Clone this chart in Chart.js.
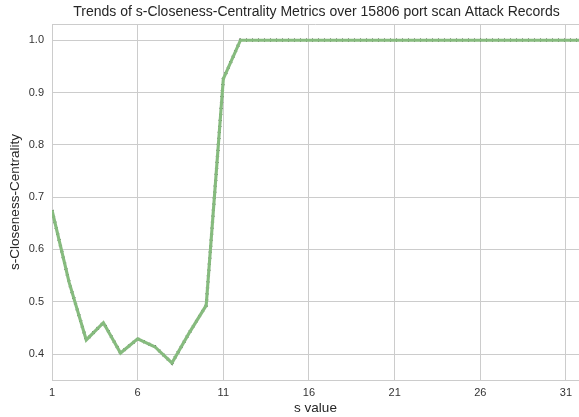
<!DOCTYPE html>
<html>
<head>
<meta charset="utf-8">
<script src="https://cdn.jsdelivr.net/npm/chart.js@4.4.0/dist/chart.umd.min.js"></script>
<style>
html,body{margin:0;padding:0;background:#fff;}
#wrap{width:579px;height:417px;position:relative;}
</style>
</head>
<body>
<div id="wrap"><canvas id="c" width="579" height="417"></canvas></div>
<script>
const sValues = [1,2,3,4,5,6,7,8,9,10,11,12,13,14,15,16,17,18,19,20,21,22,23,24,25,26,27,28,29,30,31,32];
const closeness = [0.675,0.537,0.427,0.46,0.402,0.429,0.414,0.383,0.44,0.493,0.926,1.0,1.0,1.0,1.0,1.0,1.0,1.0,1.0,1.0,1.0,1.0,1.0,1.0,1.0,1.0,1.0,1.0,1.0,1.0,1.0,1.0];
const xTicks = [1,6,11,16,21,26,31];
const yTicks = [0.4,0.5,0.6,0.7,0.8,0.9,1.0];
const titleText = 'Trends of s-Closeness-Centrality Metrics over 15806 port scan Attack Records';

const pts = sValues.map((s,i)=>({x:s,y:closeness[i]}));
const FONT = '"Liberation Sans", Arial, sans-serif';

const framePlugin = {
  id:'frame',
  beforeDraw(chart){
    const {ctx,width,height} = chart;
    ctx.save();ctx.fillStyle='#fff';ctx.fillRect(0,0,width,height);ctx.restore();
  },
  afterDraw(chart){
    const {ctx,chartArea:a} = chart;
    ctx.save();
    ctx.strokeStyle='#cccccc';ctx.lineWidth=1;
    ctx.beginPath();ctx.moveTo(a.left,a.top+0.5);ctx.lineTo(a.right,a.top+0.5);ctx.stroke();
    ctx.fillStyle='#262626';
    ctx.font='14px '+FONT;
    ctx.textAlign='center';ctx.textBaseline='middle';
    ctx.fillText(titleText,(a.left+a.right)/2+1,12);
    ctx.restore();
  }
};

new Chart(document.getElementById('c'),{
  type:'line',
  data:{datasets:[
    {data:pts,borderColor:'#86bb7e',borderWidth:3.1,pointRadius:0,tension:0,order:1},
    {data:pts,borderColor:'#333',borderWidth:3.3,borderDash:[1,5],pointRadius:0,tension:0,order:2}
  ]},
  options:{
    responsive:false,animation:false,
    layout:{padding:{top:24,right:0,left:0,bottom:0}},
    plugins:{legend:{display:false},tooltip:{enabled:false}},
    scales:{
      x:{type:'linear',min:1,max:31.76,
        afterBuildTicks(ax){ax.ticks=xTicks.map(v=>({value:v}));},
        afterFit(ax){ax.height=37;},
        grid:{color:'#cccccc',drawTicks:false,lineWidth:1},
        border:{color:'#cccccc'},
        ticks:{padding:6,color:'#333',font:{family:FONT,size:11},maxRotation:0,autoSkip:false},
        title:{display:true,text:'s value',color:'#262626',font:{family:FONT,size:13.5},padding:{top:0,bottom:1}}
      },
      y:{type:'linear',min:0.3504,max:1.031,
        afterBuildTicks(ax){ax.ticks=yTicks.map(v=>({value:v}));},
        afterFit(ax){ax.width=52;},
        grid:{color:'#cccccc',drawTicks:false,lineWidth:1},
        border:{color:'#cccccc'},
        ticks:{padding:8,color:'#333',font:{family:FONT,size:11},callback:v=>v.toFixed(1)},
        title:{display:true,text:'s-Closeness-Centrality',color:'#262626',font:{family:FONT,size:13.5},padding:{top:7,bottom:0}}
      }
    }
  },
  plugins:[framePlugin]
});
</script>
</body>
</html>
